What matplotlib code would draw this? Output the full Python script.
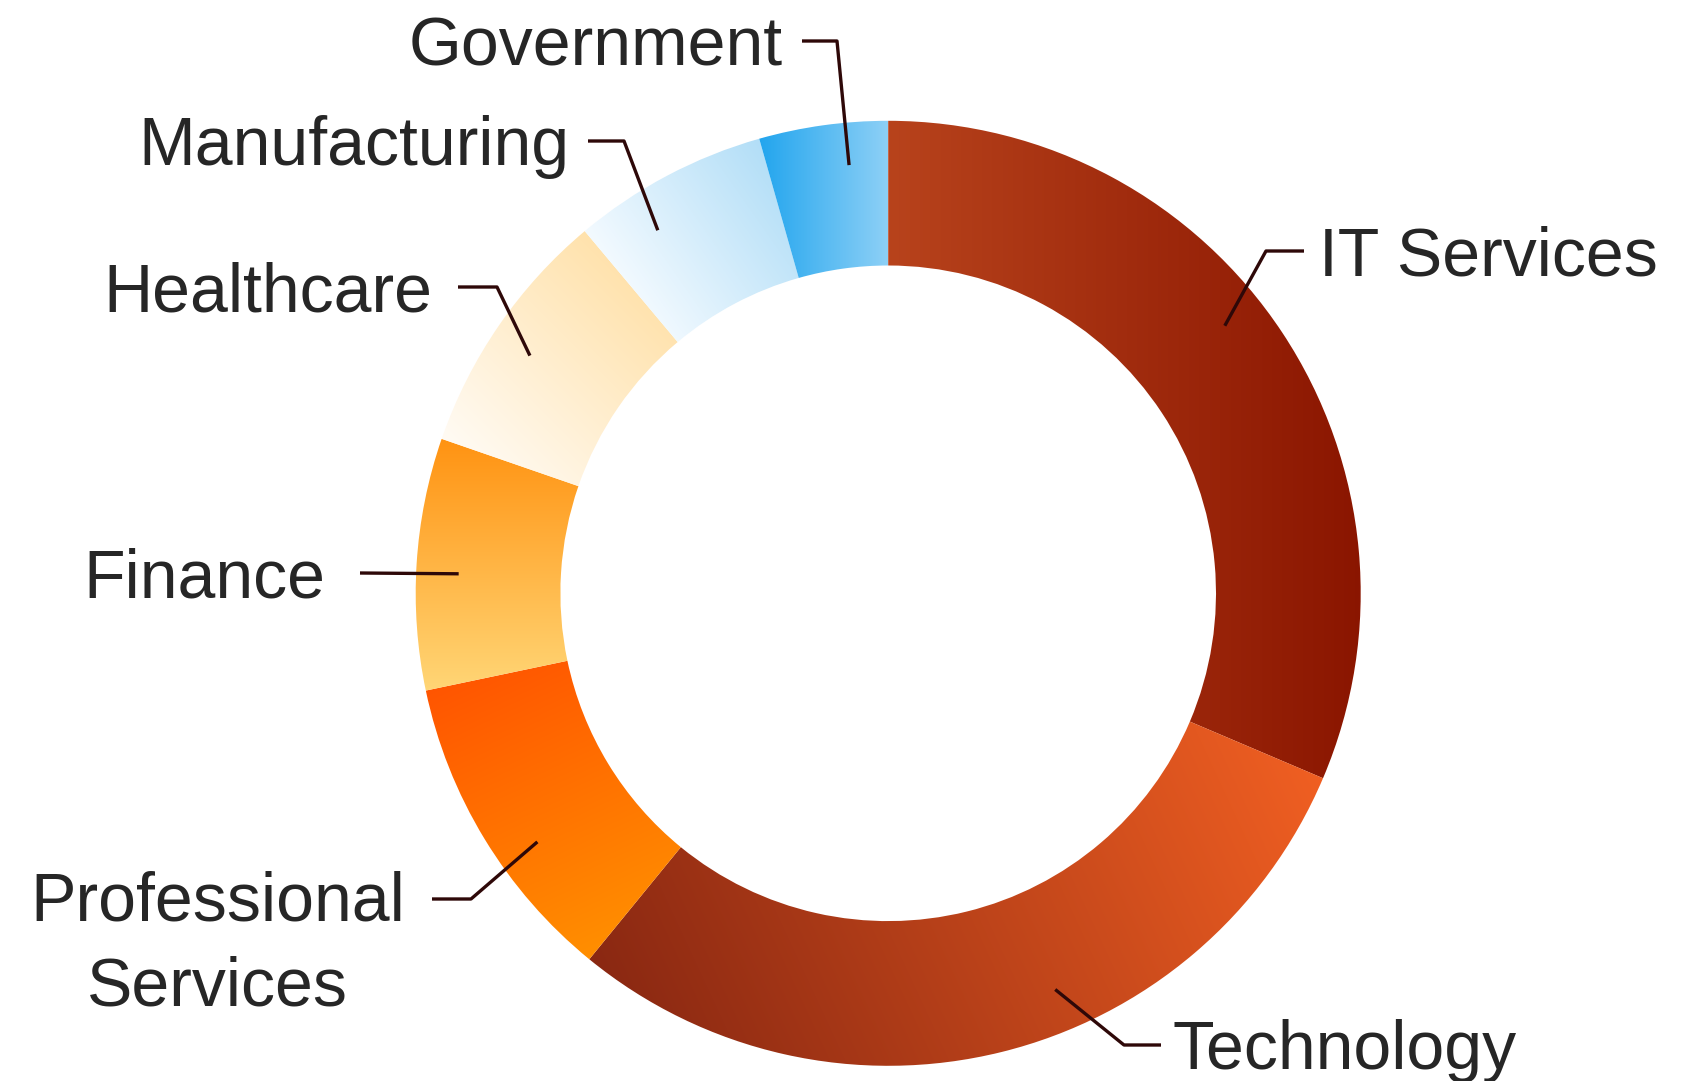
import numpy as np
import matplotlib.pyplot as plt
from matplotlib.patches import Wedge
from matplotlib.colors import to_rgb

# data
labels = ['IT Services', 'Technology', 'Professional\nServices', 'Finance',
          'Healthcare', 'Manufacturing', 'Government']
shares = [31.4, 29.5, 10.8, 8.6, 8.6, 6.7, 4.4]

# gradient fill of each slice: start colour -> end colour along an angle (deg, ccw from +x)
grad_from = ['#B8431C', '#8A2812', '#FF5500', '#FF9312', '#FFE2AC', '#B2DEF7', '#22A5EE']
grad_to = ['#8A1500', '#F05F22', '#FF8F00', '#FFD676', '#FFFBF4', '#F3FAFF', '#8DD0F6']
grad_angle = [0, 25, -65, -90, 225, 215, 0]

# label layout in pixels (y down): elbow x, elbow y, line end x, text x
lab_layout = [(1266, 251, 1304, 1319),
              (1124, 1045, 1161, 1172),
              (471, 899, 432, 405),
              (360, 573, 360, 325),
              (497, 287, 458, 432),
              (624, 141, 588, 569),
              (837, 41, 802, 783)]
anchor_nudge = [-5, -9, -4, -1, -1, -4.5, 2.7]  # deg, clockwise is positive here

W, H = 1694, 1081
cx, cy = 888.2, 593.3
R_out, R_in = 472.5, 327.8
line_gap = 82  # px between baselines of a wrapped label

fig = plt.figure(figsize=(W / 100, H / 100), dpi=100)
ax = fig.add_axes([0, 0, 1, 1])

def gradient_fill(ax, wedge, c0, c1, ang):
    verts = wedge.get_path().vertices
    x0, y0 = verts.min(axis=0)
    x1, y1 = verts.max(axis=0)
    d = np.array([np.cos(np.radians(ang)), -np.sin(np.radians(ang))])
    proj = verts @ d
    xs = np.linspace(x0, x1, 300)
    ys = np.linspace(y0, y1, 300)
    X, Y = np.meshgrid(xs, ys)
    t = (X * d[0] + Y * d[1] - proj.min()) / (proj.max() - proj.min())
    t = np.clip(t, 0, 1)[..., None]
    img = (1 - t) * np.array(to_rgb(c0)) + t * np.array(to_rgb(c1))
    im = ax.imshow(img, extent=(x0, x1, y0, y1), origin='lower',
                   aspect='auto', interpolation='bilinear', zorder=1)
    im.set_clip_path(wedge)

total = sum(shares)
start = 0.0
mids = []
for i, v in enumerate(shares):
    th1 = -90 + start / total * 360
    th2 = -90 + (start + v) / total * 360
    w = Wedge((cx, cy), R_out, th1, th2, width=R_out - R_in,
              facecolor='none', edgecolor='none')
    ax.add_patch(w)
    gradient_fill(ax, w, grad_from[i], grad_to[i], grad_angle[i])
    mids.append((th1 + th2) / 2)
    start += v

# leader lines and labels
r_anchor = 0.91 * R_out
for i, lab in enumerate(labels):
    a = np.radians(mids[i] + anchor_nudge[i])
    px, py = cx + r_anchor * np.cos(a), cy + r_anchor * np.sin(a)
    ex, ey, endx, tx = lab_layout[i]
    ax.plot([px, ex, endx], [py, ey, ey], color='#2E0808', lw=2.4,
            solid_capstyle='butt', zorder=3)
    ha = 'left' if tx > endx else 'right'
    # baseline of the last line sits 24 px below the leader end
    ty = ey + 24 + lab.count('\n') * line_gap
    ax.text(tx, ty, lab, ha=ha, va='baseline', multialignment='center',
            fontsize=49, color='#262626', family='Liberation Sans',
            linespacing=1.41, zorder=4)

ax.set_xlim(0, W)
ax.set_ylim(H, 0)
ax.axis('off')

fig.savefig('out.png', dpi=100)
